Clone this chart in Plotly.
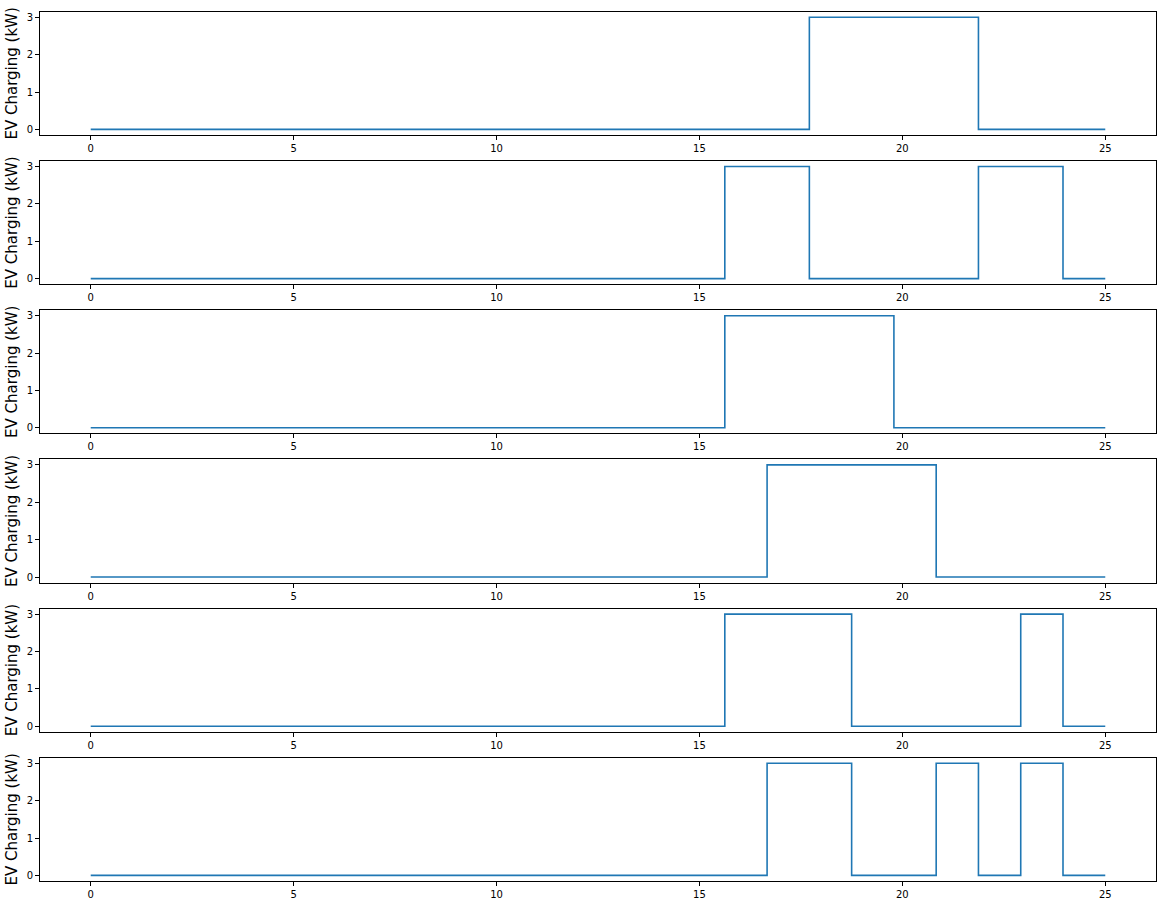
import numpy as np
import plotly.graph_objects as go

# hours grid (25 samples from 0 to 25)
hours = list(np.linspace(0, 25, 25))

ev1 = [0]*17 + [3, 3, 3, 3] + [0, 0, 0, 0]
ev2 = [0]*15 + [3, 3] + [0, 0, 0, 0] + [3, 3] + [0, 0]
ev3 = [0]*15 + [3, 3, 3, 3] + [0]*6
ev4 = [0]*16 + [3, 3, 3, 3] + [0]*5
ev5 = [0]*15 + [3, 3, 3] + [0, 0, 0, 0] + [3] + [0, 0]
ev6 = [0]*16 + [3, 3] + [0, 0] + [3] + [0] + [3] + [0, 0]
series = [ev1, ev2, ev3, ev4, ev5, ev6]

x_ticks = [0, 5, 10, 15, 20, 25]
y_ticks = [0, 1, 2, 3]
y_label = "EV Charging (kW)"

W, H = 1162, 905
left_px, right_px = 40, 1156
top0, step, height = 11.7, 149.2, 123.3

fig = go.Figure()
for i, ys in enumerate(series):
    n = i + 1
    xa = "x" if n == 1 else f"x{n}"
    ya = "y" if n == 1 else f"y{n}"
    fig.add_trace(go.Scatter(x=hours, y=ys, mode="lines", line_shape="hv",
                             line=dict(color="#1f77b4", width=1.6),
                             xaxis=xa, yaxis=ya, showlegend=False, hoverinfo="skip"))
    top = top0 + step * i
    bot = top + height
    axis_common = dict(showline=True, mirror=True, linecolor="black", linewidth=1,
                       ticks="outside", ticklen=4, tickwidth=1, tickcolor="black",
                       showgrid=False, zeroline=False,
                       tickfont=dict(family="DejaVu Sans", size=10, color="black"))
    fig.update_layout(**{
        ("xaxis" if n == 1 else f"xaxis{n}"): dict(
            domain=[left_px / W, right_px / W], range=[-1.25, 26.25],
            tickvals=x_ticks, anchor=ya, **axis_common),
        ("yaxis" if n == 1 else f"yaxis{n}"): dict(
            domain=[1 - bot / H, 1 - top / H], range=[-0.15, 3.15],
            tickvals=y_ticks, anchor=xa, automargin=False,
            title=dict(text=y_label, font=dict(family="DejaVu Sans", size=15, color="black"),
                       standoff=5),
            **axis_common),
    })

fig.update_layout(width=W, height=H, margin=dict(l=0, r=0, t=0, b=0),
                  paper_bgcolor="white", plot_bgcolor="white")
fig.write_html("out.html")
